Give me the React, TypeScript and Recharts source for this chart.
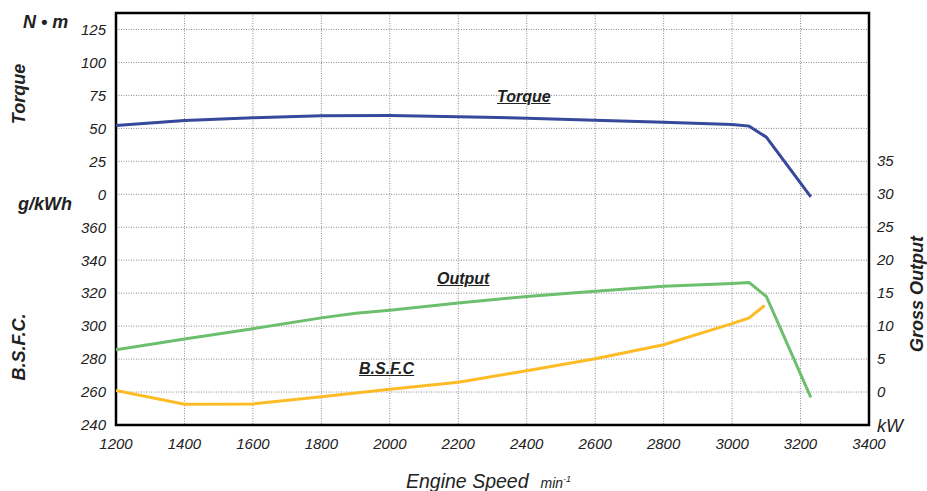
import { LineChart, Line, XAxis, YAxis, CartesianGrid, ReferenceArea } from 'recharts';

// engine speed ticks (min-1)
const rpmTicks = [1200, 1400, 1600, 1800, 2000, 2200, 2400, 2600, 2800, 3000, 3200, 3400];

// torque, N·m
const torqueRpm = [1200, 1400, 1600, 1800, 2000, 2200, 2400, 2600, 2800, 3000, 3050, 3100, 3230];
const torqueNm = [52.1, 55.9, 58, 59.5, 59.7, 58.9, 57.7, 56.2, 54.7, 53, 51.7, 43.3, -2];

// gross output, kW
const outputRpm = [1200, 1400, 1600, 1800, 1900, 2000, 2200, 2400, 2600, 2800, 3000, 3050, 3100, 3230];
const outputKw = [6.4, 8.05, 9.6, 11.25, 11.95, 12.4, 13.5, 14.5, 15.3, 16.05, 16.45, 16.6, 14.5, -0.8];

// B.S.F.C., g/kWh
const bsfcRpm = [1200, 1400, 1600, 1800, 2000, 2200, 2400, 2600, 2800, 3000, 3050, 3095];
const bsfcGkwh = [260.9, 252.6, 252.8, 257.2, 261.7, 266, 272.9, 280.2, 288.7, 301.5, 305, 312.5];

// left axis is shared: bsfc 240..360 below, torque 0..125 above (0 N·m sits at 380)
const leftTicks = [240, 260, 280, 300, 320, 340, 360, 380, 400, 420, 440, 460, 480];
const rightTicks = [-5, 0, 5, 10, 15, 20, 25, 30, 35];
const gridTicks = [240, 250, 260, 270, 280, 290, 300, 310, 320, 330, 340, 350, 360, 370, 380, 390, 400, 410, 420, 430, 440, 450, 460, 470, 480];

const torqueData = torqueRpm.map((rpm, i) => ({ rpm, value: torqueNm[i] }));
const outputData = outputRpm.map((rpm, i) => ({ rpm, value: outputKw[i] }));
const bsfcData = bsfcRpm.map((rpm, i) => ({ rpm, value: bsfcGkwh[i] }));

const FONT = '"Liberation Sans", Arial, sans-serif';
const tickStyle = { fontFamily: FONT, fontStyle: 'italic', fontSize: 15, fill: '#222' };

const formatLeft = (v: number) => (v <= 360 ? String(v) : String((v - 380) / 0.8));

// right axis: the -5 slot carries the unit label instead of a number
function RightTick(props: any) {
  const { x, y, payload } = props;
  const isUnit = payload.value < 0;
  return (
    <text
      x={x}
      y={y}
      dy={isUnit ? 7 : 5}
      textAnchor="start"
      fontFamily={FONT}
      fontStyle="italic"
      fontSize={isUnit ? 18 : 15}
      fill="#222"
    >
      {isUnit ? 'kW' : payload.value}
    </text>
  );
}

const title: React.CSSProperties = {
  position: 'absolute',
  fontFamily: FONT,
  fontStyle: 'italic',
  fontWeight: 'bold',
  fontSize: 18,
  color: '#222',
  whiteSpace: 'nowrap',
  lineHeight: 1,
};

const vertical = (cx: number, cy: number): React.CSSProperties => ({
  ...title,
  left: cx,
  top: cy,
  transform: 'translate(-50%, -50%) rotate(-90deg)',
});

const seriesLabel: React.CSSProperties = { ...title, fontSize: 16, textDecoration: 'underline' };

export default function App() {
  return (
    <div style={{ position: 'absolute', left: 0, top: 0, width: 927, height: 491, background: '#fff' }}>
      <LineChart width={927} height={491} margin={{ top: 13, right: 0, bottom: 0, left: 0 }}>
        <XAxis
          dataKey="rpm"
          type="number"
          domain={[1200, 3400]}
          ticks={rpmTicks}
          allowDataOverflow
          height={66}
          tickLine={false}
          axisLine={false}
          tickSize={0}
          tickMargin={13}
          tick={tickStyle}
        />
        <YAxis
          yAxisId="left"
          type="number"
          domain={[240, 490]}
          ticks={leftTicks}
          tickFormatter={formatLeft}
          width={116}
          tickLine={false}
          axisLine={false}
          tickSize={0}
          tickMargin={10}
          tick={tickStyle}
          allowDataOverflow
        />
        <YAxis yAxisId="torque" type="number" domain={[-175, 137.5]} hide width={0} allowDataOverflow />
        <YAxis yAxisId="grid" type="number" domain={[240, 490]} ticks={gridTicks} hide width={0} allowDataOverflow />
        <YAxis
          yAxisId="right"
          orientation="right"
          type="number"
          domain={[-5, 57.5]}
          ticks={rightTicks}
          width={58}
          tickLine={false}
          axisLine={false}
          tickSize={0}
          tickMargin={8}
          tick={<RightTick />}
          allowDataOverflow
        />
        <CartesianGrid yAxisId="grid" stroke="#8a8a8a" strokeDasharray="1 1.5" strokeWidth={1} />
        <ReferenceArea
          yAxisId="left"
          x1={1200}
          x2={3400}
          y1={240}
          y2={490}
          fill="none"
          stroke="#000"
          strokeWidth={2.5}
          ifOverflow="visible"
        />
        <Line
          yAxisId="torque"
          data={torqueData}
          dataKey="value"
          stroke="#36499c"
          strokeWidth={3}
          dot={false}
          isAnimationActive={false}
        />
        <Line
          yAxisId="right"
          data={outputData}
          dataKey="value"
          stroke="#6cbf6c"
          strokeWidth={3}
          dot={false}
          isAnimationActive={false}
        />
        <Line
          yAxisId="left"
          data={bsfcData}
          dataKey="value"
          stroke="#fdbb26"
          strokeWidth={3}
          dot={false}
          isAnimationActive={false}
        />
      </LineChart>

      <div style={{ ...title, left: 23, top: 13 }}>N • m</div>
      <div style={vertical(19, 94)}>Torque</div>
      <div style={{ ...title, left: 18, top: 195 }}>g/kWh</div>
      <div style={vertical(19, 347)}>B.S.F.C.</div>
      <div style={vertical(917, 294)}>Gross Output</div>

      <div style={{ ...seriesLabel, left: 497, top: 89 }}>Torque</div>
      <div style={{ ...seriesLabel, left: 437, top: 271 }}>Output</div>
      <div style={{ ...seriesLabel, left: 359, top: 361 }}>B.S.F.C</div>

      <div
        style={{
          position: 'absolute',
          left: 406,
          top: 470,
          fontFamily: FONT,
          fontStyle: 'italic',
          fontSize: 19.5,
          color: '#222',
          whiteSpace: 'nowrap',
        }}
      >
        Engine Speed
        <span style={{ fontSize: 14, marginLeft: 12 }}>
          min<sup style={{ fontSize: 9 }}>-1</sup>
        </span>
      </div>
    </div>
  );
}
